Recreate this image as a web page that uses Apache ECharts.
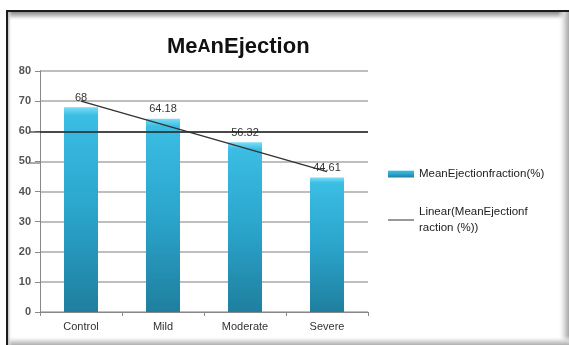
<!DOCTYPE html>
<html>
<head>
<meta charset="utf-8">
<script src="https://cdn.jsdelivr.net/npm/echarts@6/dist/echarts.min.js"></script>
<style>html,body{margin:0;padding:0;background:#fff;}#c{width:569px;height:345px;}</style>
</head>
<body>
<div id="c"></div>
<script>
const categories = ['Control', 'Mild', 'Moderate', 'Severe'];
const meanValues = [68, 64.18, 56.32, 44.61];
const trendValues = [70.0, 62.2, 54.4, 46.6];
const yTicks = [0, 10, 20, 30, 40, 50, 60, 70, 80];
const barName = 'MeanEjectionfraction(%)';
const trendName = 'Linear(MeanEjectionfraction (%))';

const chart = echarts.init(document.getElementById('c'), null, {renderer: 'canvas'});
const font = '"Liberation Sans", Arial, sans-serif';
const LG = echarts.graphic.LinearGradient;
chart.setOption({
  animation: false,
  backgroundColor: '#fff',
  textStyle: {fontFamily: font},
  graphic: [
    {type: 'rect', shape: {x: 8, y: 12, width: 561, height: 9}, style: {fill: new LG(0, 0, 0, 1, [{offset: 0, color: '#8a8a8a'}, {offset: 0.5, color: '#d0d0d0'}, {offset: 1, color: 'rgba(255,255,255,0)'}])}, z: 98},
    {type: 'rect', shape: {x: 558, y: 12, width: 11, height: 333}, style: {fill: new LG(0, 0, 1, 0, [{offset: 0, color: 'rgba(255,255,255,0)'}, {offset: 0.6, color: '#d6d6d6'}, {offset: 1, color: '#a8a8a8'}])}, z: 98},
    {type: 'rect', shape: {x: 8, y: 336, width: 561, height: 9}, style: {fill: new LG(0, 0, 0, 1, [{offset: 0, color: 'rgba(255,255,255,0)'}, {offset: 0.6, color: '#d6d6d6'}, {offset: 1, color: '#b0b0b0'}])}, z: 98},
    {type: 'rect', shape: {x: 8, y: 12, width: 4, height: 333}, style: {fill: new LG(0, 0, 1, 0, [{offset: 0, color: '#bbbbbb'}, {offset: 1, color: 'rgba(255,255,255,0)'}])}, z: 98},
    {type: 'line', shape: {x1: 6, y1: 11, x2: 569, y2: 11}, style: {stroke: '#1a1a1a', lineWidth: 2}, z: 100},
    {type: 'line', shape: {x1: 7, y1: 10, x2: 7, y2: 345}, style: {stroke: '#1a1a1a', lineWidth: 2}, z: 100},
    {type: 'line', shape: {x1: 30, y1: 132, x2: 40, y2: 132}, style: {stroke: '#333', lineWidth: 1.2}, z: 10},
    {type: 'line', shape: {x1: 30, y1: 163, x2: 40, y2: 163}, style: {stroke: '#555', lineWidth: 1}, z: 10}
  ],
  title: {
    text: 'Me{s|A}nEjection',
    left: 162, top: 31,
    textStyle: {
      fontSize: 22, fontWeight: 'bold', color: '#111', fontFamily: font,
      rich: {s: {fontSize: 18, fontWeight: 'bold', color: '#111', fontFamily: font}}
    }
  },
  legend: {
    orient: 'vertical',
    left: 383, top: 161,
    itemWidth: 26, itemHeight: 7,
    itemGap: 22,
    textStyle: {fontSize: 11.5, color: '#222', fontFamily: font, lineHeight: 16},
    formatter: function (n) { return n === trendName ? 'Linear(MeanEjectionf\nraction (%))' : n; },
    data: [
      {name: barName, icon: 'rect'},
      {name: trendName, icon: 'path://M0,0 L26,0 L26,1 L0,1 Z', itemStyle: {color: '#333'}}
    ]
  },
  grid: {left: 40, right: 201, top: 71, bottom: 33},
  xAxis: {
    type: 'category',
    data: categories,
    axisLine: {lineStyle: {color: '#888', width: 1}},
    axisTick: {show: true, length: 4, lineStyle: {color: '#888'}},
    axisLabel: {color: '#333', fontSize: 11, margin: 9, fontFamily: font}
  },
  yAxis: {
    type: 'value',
    min: yTicks[0], max: yTicks[yTicks.length - 1], interval: 10,
    axisLine: {show: true, lineStyle: {color: '#888', width: 1}},
    axisTick: {show: true, length: 5, lineStyle: {color: '#888'}},
    axisLabel: {color: '#555', fontSize: 11, fontWeight: 'bold', margin: 9, fontFamily: font},
    splitLine: {lineStyle: {color: '#a8a8a8', width: 1.5}}
  },
  series: [
    {
      name: barName,
      type: 'bar',
      data: meanValues,
      barWidth: 34,
      itemStyle: {
        color: new LG(0, 0, 0, 1, [
          {offset: 0, color: '#7ddcf5'},
          {offset: 0.04, color: '#3bbde4'},
          {offset: 0.5, color: '#2ba5cc'},
          {offset: 1, color: '#1f7f9f'}
        ])
      },
      label: {show: true, position: 'top', distance: 4, color: '#333', fontSize: 11, fontFamily: font},
      markLine: {
        silent: true, symbol: 'none', label: {show: false},
        lineStyle: {color: '#222', width: 1.5, type: 'solid'},
        data: [{yAxis: 60}]
      },
      z: 2
    },
    {
      name: trendName,
      type: 'line',
      data: trendValues,
      symbol: 'none',
      lineStyle: {color: '#333', width: 1.5},
      itemStyle: {color: '#333'},
      z: 5
    }
  ]
});
</script>
</body>
</html>
